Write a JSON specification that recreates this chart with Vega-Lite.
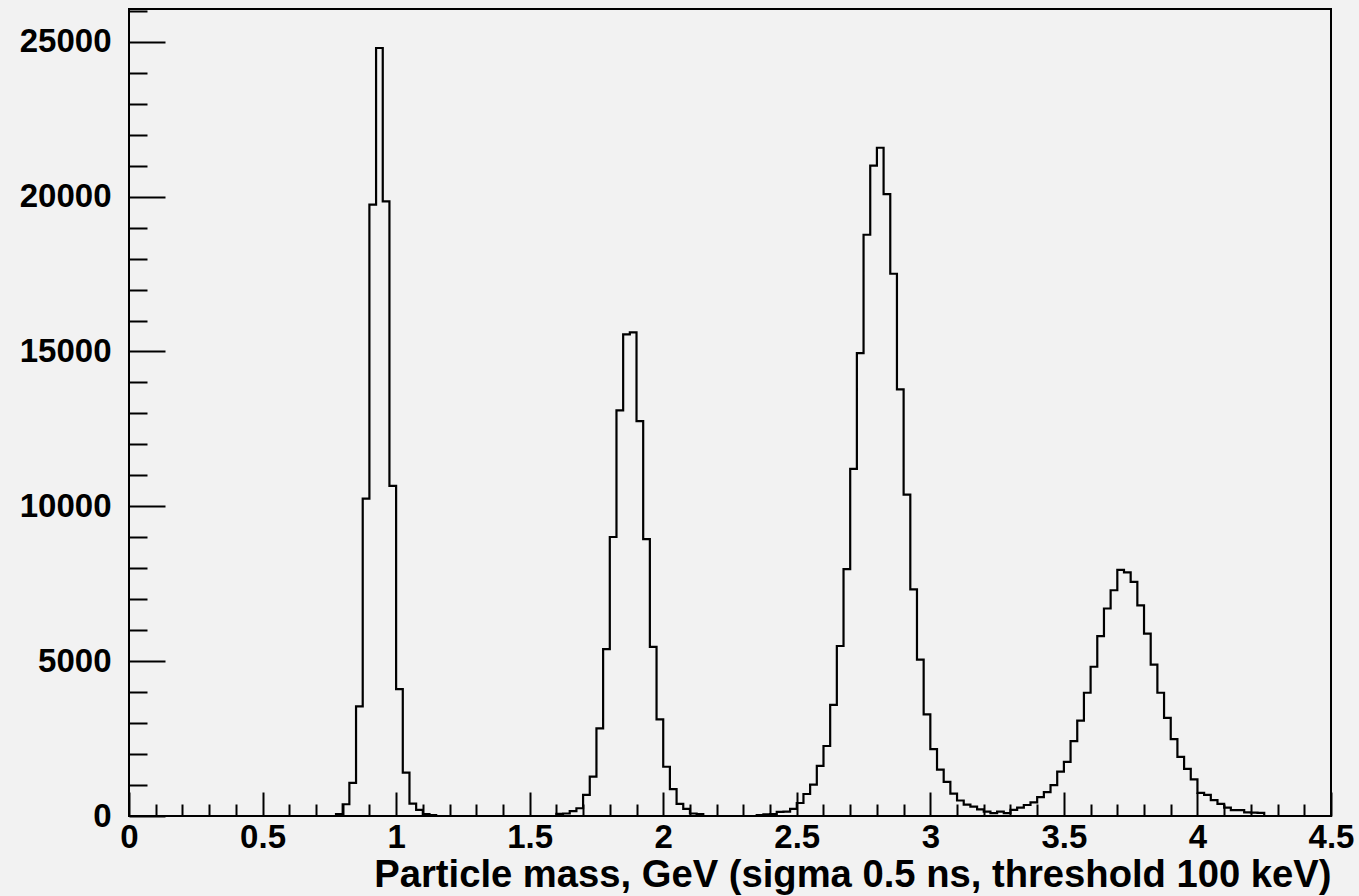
{
  "$schema": "https://vega.github.io/schema/vega-lite/v6.json",
  "width": 1202,
  "height": 807,
  "autosize": {"type": "none"},
  "padding": {"left": 129, "top": 9, "right": 28, "bottom": 80},
  "background": "#f2f2f2",
  "config": {
    "view": {"stroke": "#000000", "strokeWidth": 2, "fill": "#f2f2f2"},
    "axis": {"labelFont": "Liberation Sans", "labelFontWeight": "bold", "labelColor": "#000000", "titleFont": "Liberation Sans", "titleFontWeight": "bold", "titleColor": "#000000", "tickColor": "#000000", "grid": false, "domain": false}
  },
  "data": {"name": "hist", "values": [
    {"m": 0.0, "n": 0}, {"m": 0.025, "n": 0}, {"m": 0.05, "n": 0}, {"m": 0.075, "n": 0}, {"m": 0.1, "n": 0},
    {"m": 0.125, "n": 0}, {"m": 0.15, "n": 0}, {"m": 0.175, "n": 0}, {"m": 0.2, "n": 0}, {"m": 0.225, "n": 0},
    {"m": 0.25, "n": 0}, {"m": 0.275, "n": 0}, {"m": 0.3, "n": 0}, {"m": 0.325, "n": 0}, {"m": 0.35, "n": 0},
    {"m": 0.375, "n": 0}, {"m": 0.4, "n": 0}, {"m": 0.425, "n": 0}, {"m": 0.45, "n": 0}, {"m": 0.475, "n": 0},
    {"m": 0.5, "n": 0}, {"m": 0.525, "n": 0}, {"m": 0.55, "n": 0}, {"m": 0.575, "n": 0}, {"m": 0.6, "n": 0},
    {"m": 0.625, "n": 0}, {"m": 0.65, "n": 0}, {"m": 0.675, "n": 0}, {"m": 0.7, "n": 0}, {"m": 0.725, "n": 0},
    {"m": 0.75, "n": 0}, {"m": 0.775, "n": 60}, {"m": 0.8, "n": 380}, {"m": 0.825, "n": 1070}, {"m": 0.85, "n": 3540},
    {"m": 0.875, "n": 10250}, {"m": 0.9, "n": 19740}, {"m": 0.925, "n": 24800}, {"m": 0.95, "n": 19850}, {"m": 0.975, "n": 10660},
    {"m": 1.0, "n": 4100}, {"m": 1.025, "n": 1400}, {"m": 1.05, "n": 400}, {"m": 1.075, "n": 200}, {"m": 1.1, "n": 60},
    {"m": 1.125, "n": 30}, {"m": 1.15, "n": 0}, {"m": 1.175, "n": 0}, {"m": 1.2, "n": 0}, {"m": 1.225, "n": 0},
    {"m": 1.25, "n": 0}, {"m": 1.275, "n": 0}, {"m": 1.3, "n": 0}, {"m": 1.325, "n": 0}, {"m": 1.35, "n": 0},
    {"m": 1.375, "n": 0}, {"m": 1.4, "n": 0}, {"m": 1.425, "n": 0}, {"m": 1.45, "n": 0}, {"m": 1.475, "n": 0},
    {"m": 1.5, "n": 0}, {"m": 1.525, "n": 0}, {"m": 1.55, "n": 0}, {"m": 1.575, "n": 0}, {"m": 1.6, "n": 70},
    {"m": 1.625, "n": 80}, {"m": 1.65, "n": 160}, {"m": 1.675, "n": 250}, {"m": 1.7, "n": 680}, {"m": 1.725, "n": 1270},
    {"m": 1.75, "n": 2830}, {"m": 1.775, "n": 5390}, {"m": 1.8, "n": 9010}, {"m": 1.825, "n": 13100}, {"m": 1.85, "n": 15550},
    {"m": 1.875, "n": 15620}, {"m": 1.9, "n": 12750}, {"m": 1.925, "n": 8940}, {"m": 1.95, "n": 5460}, {"m": 1.975, "n": 3120},
    {"m": 2.0, "n": 1590}, {"m": 2.025, "n": 870}, {"m": 2.05, "n": 390}, {"m": 2.075, "n": 230}, {"m": 2.1, "n": 80},
    {"m": 2.125, "n": 60}, {"m": 2.15, "n": 0}, {"m": 2.175, "n": 0}, {"m": 2.2, "n": 0}, {"m": 2.225, "n": 0},
    {"m": 2.25, "n": 0}, {"m": 2.275, "n": 0}, {"m": 2.3, "n": 0}, {"m": 2.325, "n": 0}, {"m": 2.35, "n": 30},
    {"m": 2.375, "n": 50}, {"m": 2.4, "n": 60}, {"m": 2.425, "n": 130}, {"m": 2.45, "n": 140}, {"m": 2.475, "n": 230},
    {"m": 2.5, "n": 420}, {"m": 2.525, "n": 710}, {"m": 2.55, "n": 1010}, {"m": 2.575, "n": 1620}, {"m": 2.6, "n": 2260},
    {"m": 2.625, "n": 3590}, {"m": 2.65, "n": 5490}, {"m": 2.675, "n": 7970}, {"m": 2.7, "n": 11210}, {"m": 2.725, "n": 14950},
    {"m": 2.75, "n": 18770}, {"m": 2.775, "n": 21000}, {"m": 2.8, "n": 21580}, {"m": 2.825, "n": 20080}, {"m": 2.85, "n": 17510},
    {"m": 2.875, "n": 13780}, {"m": 2.9, "n": 10380}, {"m": 2.925, "n": 7320}, {"m": 2.95, "n": 5050}, {"m": 2.975, "n": 3280},
    {"m": 3.0, "n": 2160}, {"m": 3.025, "n": 1500}, {"m": 3.05, "n": 1100}, {"m": 3.075, "n": 720}, {"m": 3.1, "n": 500},
    {"m": 3.125, "n": 370}, {"m": 3.15, "n": 300}, {"m": 3.175, "n": 215}, {"m": 3.2, "n": 140}, {"m": 3.225, "n": 90},
    {"m": 3.25, "n": 140}, {"m": 3.275, "n": 90}, {"m": 3.3, "n": 200}, {"m": 3.325, "n": 270}, {"m": 3.35, "n": 355},
    {"m": 3.375, "n": 440}, {"m": 3.4, "n": 610}, {"m": 3.425, "n": 770}, {"m": 3.45, "n": 1000}, {"m": 3.475, "n": 1430},
    {"m": 3.5, "n": 1750}, {"m": 3.525, "n": 2420}, {"m": 3.55, "n": 3080}, {"m": 3.575, "n": 3980}, {"m": 3.6, "n": 4820},
    {"m": 3.625, "n": 5810}, {"m": 3.65, "n": 6700}, {"m": 3.675, "n": 7290}, {"m": 3.7, "n": 7950}, {"m": 3.725, "n": 7870},
    {"m": 3.75, "n": 7560}, {"m": 3.775, "n": 6800}, {"m": 3.8, "n": 5890}, {"m": 3.825, "n": 4890}, {"m": 3.85, "n": 3980},
    {"m": 3.875, "n": 3170}, {"m": 3.9, "n": 2480}, {"m": 3.925, "n": 1910}, {"m": 3.95, "n": 1520}, {"m": 3.975, "n": 1180},
    {"m": 4.0, "n": 750}, {"m": 4.025, "n": 680}, {"m": 4.05, "n": 510}, {"m": 4.075, "n": 390}, {"m": 4.1, "n": 270},
    {"m": 4.125, "n": 190}, {"m": 4.15, "n": 190}, {"m": 4.175, "n": 120}, {"m": 4.2, "n": 110}, {"m": 4.225, "n": 100},
    {"m": 4.25, "n": 0}, {"m": 4.275, "n": 0}, {"m": 4.3, "n": 0}, {"m": 4.325, "n": 0}, {"m": 4.35, "n": 0},
    {"m": 4.375, "n": 0}, {"m": 4.4, "n": 0}, {"m": 4.425, "n": 0}, {"m": 4.45, "n": 0}, {"m": 4.475, "n": 0}
  ]},
  "resolve": {"axis": {"x": "independent", "y": "independent"}},
  "layer": [
    {
      "mark": {"type": "line", "interpolate": "step-after", "color": "#000000", "strokeWidth": 2.2},
      "encoding": {
        "x": {"field": "m", "type": "quantitative", "scale": {"domain": [0, 4.5], "nice": false, "zero": false},
          "axis": {"orient": "bottom", "values": [0, 0.5, 1, 1.5, 2, 2.5, 3, 3.5, 4, 4.5], "format": "~g", "ticks": false, "labelFontSize": 33, "labelPadding": 5, "labelFlush": false,
            "title": "Particle mass, GeV (sigma 0.5 ns, threshold 100 keV)", "titleFontSize": 38.2, "titleAnchor": "end", "titlePadding": 2}},
        "y": {"field": "n", "type": "quantitative", "scale": {"domain": [0, 26060], "nice": false},
          "axis": {"orient": "left", "values": [0, 5000, 10000, 15000, 20000, 25000], "format": "d", "ticks": false, "labelFontSize": 33, "labelPadding": 18, "labelFlush": false, "title": null}}
      }
    },
    {
      "mark": {"type": "line", "interpolate": "step-after", "strokeOpacity": 0},
      "encoding": {
        "x": {"field": "m", "type": "quantitative",
          "axis": {"orient": "bottom", "values": [0, 0.5, 1, 1.5, 2, 2.5, 3, 3.5, 4, 4.5], "labels": false, "ticks": true, "tickSize": -24, "tickWidth": 2, "title": null}},
        "y": {"field": "n", "type": "quantitative",
          "axis": {"orient": "left", "values": [0, 5000, 10000, 15000, 20000, 25000], "labels": false, "ticks": true, "tickSize": -36, "tickWidth": 2, "title": null}}
      }
    },
    {
      "mark": {"type": "line", "interpolate": "step-after", "strokeOpacity": 0},
      "encoding": {
        "x": {"field": "m", "type": "quantitative",
          "axis": {"orient": "bottom", "values": [0.1, 0.2, 0.3, 0.4, 0.6, 0.7, 0.8, 0.9, 1.1, 1.2, 1.3, 1.4, 1.6, 1.7, 1.8, 1.9, 2.1, 2.2, 2.3, 2.4, 2.6, 2.7, 2.8, 2.9, 3.1, 3.2, 3.3, 3.4, 3.6, 3.7, 3.8, 3.9, 4.1, 4.2, 4.3, 4.4], "labels": false, "ticks": true, "tickSize": -12, "tickWidth": 2, "title": null}},
        "y": {"field": "n", "type": "quantitative",
          "axis": {"orient": "left", "values": [1000, 2000, 3000, 4000, 6000, 7000, 8000, 9000, 11000, 12000, 13000, 14000, 16000, 17000, 18000, 19000, 21000, 22000, 23000, 24000, 26000], "labels": false, "ticks": true, "tickSize": -18, "tickWidth": 2, "title": null}}
      }
    }
  ]
}
